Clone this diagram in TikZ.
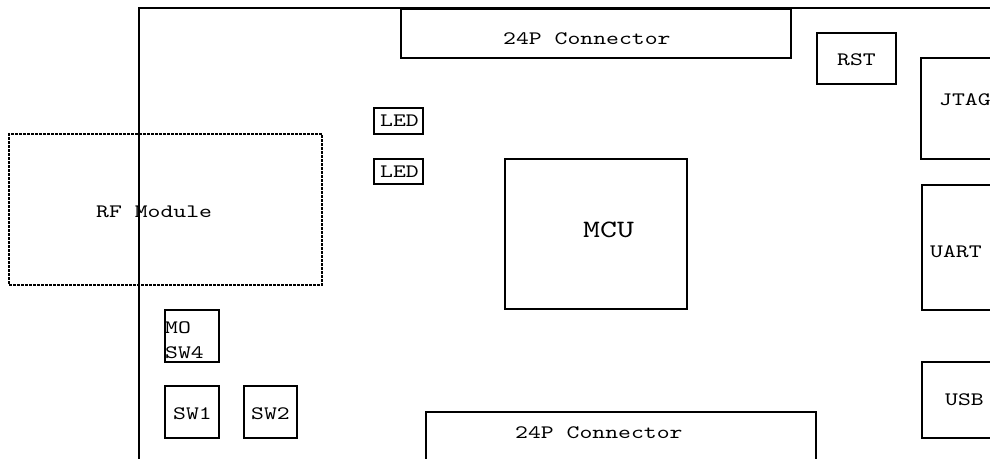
\documentclass[tikz,border=0pt]{standalone}
\usepackage{fontspec}
\newfontfamily\cour[FakeStretch=1.29]{lmmono10-regular.otf}
\begin{document}
\begin{tikzpicture}[x=1pt,y=-1pt,
  box/.style={draw=black,line width=2.3pt,rectangle,inner sep=0pt,anchor=north west},
  rfbox/.style={draw=black,line width=2.3pt,dash pattern=on 3pt off 1pt,rectangle,inner sep=0pt,anchor=north west},
  lbl/.style={inner sep=0pt,anchor=base west,font=\cour\fontsize{19}{25}\selectfont},
  big/.style={inner sep=0pt,anchor=base west,font=\cour\fontsize{25}{28}\selectfont}]
\useasboundingbox (0,0) rectangle (990,458);
\clip (0,0) rectangle (990,458);
% board outline
\coordinate (bl) at (139,470);
\coordinate (tl) at (139,8);
\coordinate (tr) at (1000,8);
\draw[line width=2.3pt] (bl) -- (tl) -- (tr);
% RF module
\node[rfbox,minimum width=313pt,minimum height=151pt] (rf) at (8,133) {};
\node[lbl] (rft) at (96,217) {RF Module};
% top connector
\node[box,minimum width=390pt,minimum height=49pt] (ctop) at (400,8) {};
\node[lbl] (ctopt) at (503,44.5) {24P Connector};
% bottom connector
\node[box,minimum width=390pt,minimum height=60pt] (cbot) at (425,411) {};
\node[lbl] (cbott) at (515,438) {24P Connector};
% RST
\node[box,minimum width=79pt,minimum height=51pt] (rst) at (816,32) {};
\node[lbl] (rstt) at (837,65) {RST};
% JTAG
\node[box,minimum width=90pt,minimum height=101pt] (jtag) at (920,57) {};
\node[lbl] (jtagt) at (939,105) {JTAG};
% UART
\node[box,minimum width=90pt,minimum height=125pt] (uart) at (921,184) {};
\node[lbl] (uartt) at (930,257) {UART};
% USB
\node[box,minimum width=90pt,minimum height=76pt] (usb) at (921,361) {};
\node[lbl] (usbt) at (945,405) {USB};
% LEDs
\node[box,minimum width=49pt,minimum height=26pt] (led1) at (373,107) {};
\node[lbl] (led1t) at (380,126) {LED};
\node[box,minimum width=49pt,minimum height=25pt] (led2) at (373,158) {};
\node[lbl] (led2t) at (380,177) {LED};
% MCU
\node[box,minimum width=182pt,minimum height=150pt] (mcu) at (504,158) {};
\node[big] (mcut) at (583,237) {MCU};
% switches
\node[box,minimum width=54pt,minimum height=52pt] (sw4) at (164,309) {};
\node[lbl] (sw4a) at (165,333) {MO};
\node[lbl] (sw4b) at (165,358) {SW4};
\node[box,minimum width=54pt,minimum height=52pt] (sw1) at (164,385) {};
\node[lbl] (sw1t) at (173,419) {SW1};
\node[box,minimum width=53pt,minimum height=52pt] (sw2) at (243,385) {};
\node[lbl] (sw2t) at (251,419) {SW2};
\end{tikzpicture}
\end{document}
